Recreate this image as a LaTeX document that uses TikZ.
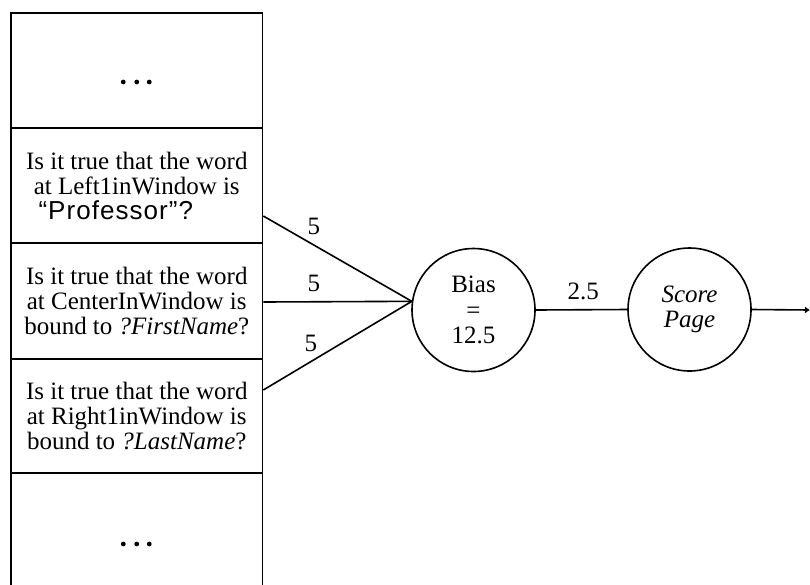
\documentclass[tikz,border=0pt]{standalone}
\usepackage{fontspec}
\setmainfont{Liberation Serif}
\newfontfamily\sansf[LetterSpace=4]{Liberation Sans}
\usetikzlibrary{arrows.meta}
\begin{document}
\begin{tikzpicture}[x=1pt,y=-1pt,
  cell/.style={draw,line width=1.6pt,minimum width=251.5pt,inner sep=0pt,
    align=center,font=\fontsize{25}{25}\selectfont},
  unit/.style={draw,circle,line width=1.6pt,minimum size=123pt,inner sep=0pt,
    align=center,font=\fontsize{25}{25.5}\selectfont},
  wire/.style={line width=1.6pt},
  weight/.style={font=\fontsize{25}{25}\selectfont,inner sep=0pt,above=9pt}]
\useasboundingbox (0,0) rectangle (810,584);

% column of feature tests
\node[cell,minimum height=115pt] (c1) at (136.75,70.5) {};
\node[cell,minimum height=115pt] (c2) at (136.75,185.5)
  {Is it true that the word\\at Left1inWindow is\\{\sansf\fontsize{26}{25}\selectfont “Professor”?}\hspace*{42pt}};
\node[cell,minimum height=116pt] (c3) at (136.75,301)
  {Is it true that the word\\at CenterInWindow is\\bound to \textit{?FirstName}?};
\node[cell,minimum height=114pt] (c4) at (136.75,416)
  {Is it true that the word\\at Right1inWindow is\\bound to \textit{?LastName}?};
\node[cell,minimum height=118pt] (c5) at (136.75,532) {};

% ellipsis dots in the open-ended cells
\foreach \dx in {-13.5,0,12.5} {
  \fill (c1.center) ++(\dx,11.5) circle (2.4pt);
  \fill (c5.center) ++(\dx,12) circle (2.4pt);
}

% units
\node[unit] (bias) at (473.5,310) {Bias\\=\\12.5};
\node[unit] (score) at (689.5,309.5) {\textit{Score}\\\textit{Page}};
\coordinate (out) at (810,310);

% weighted connections
\draw[wire] ([yshift=-30.5pt]c2.east) -- node[weight,pos=.34] {5} (bias.172);
\draw[wire] ([yshift=-1pt]c3.east) -- node[weight,pos=.34] {5} (bias.172);
\draw[wire] ([yshift=26pt]c4.east) -- node[weight,pos=.32] {5} (bias.172);
\draw[wire] (bias.east) -- node[weight,pos=.52] {2.5} (score.west);
\draw[wire,-{Latex[length=5pt,width=7pt]}] (score.east) -- (out);
\end{tikzpicture}
\end{document}
